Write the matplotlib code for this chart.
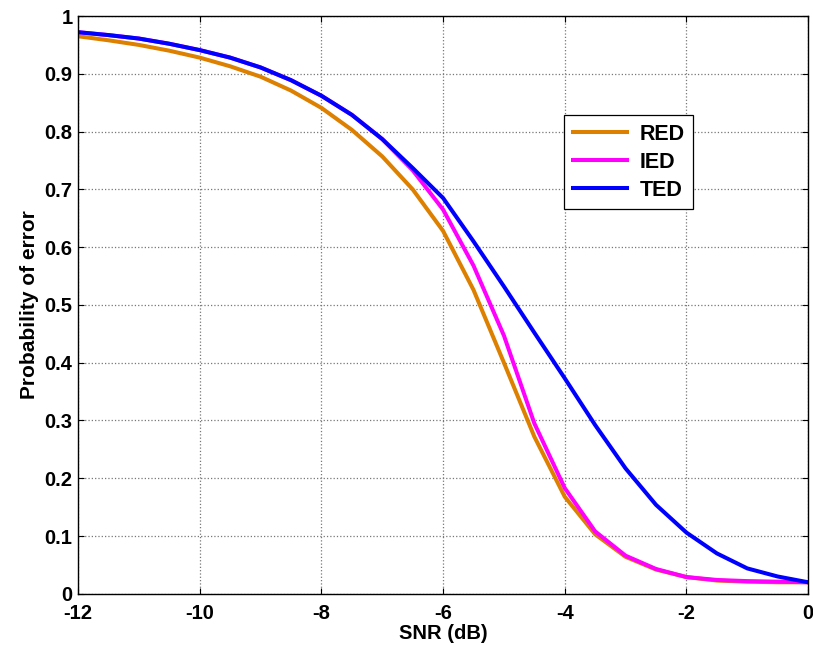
import matplotlib
matplotlib.use("Agg")
import matplotlib.pyplot as plt

snr = [-12, -11.5, -11, -10.5, -10, -9.5, -9, -8.5, -8, -7.5, -7, -6.5, -6,
       -5.5, -5, -4.5, -4, -3.5, -3, -2.5, -2, -1.5, -1, -0.5, 0]
red = [0.965, 0.958, 0.950, 0.940, 0.928, 0.913, 0.895, 0.871, 0.841, 0.803,
       0.757, 0.700, 0.628, 0.526, 0.400, 0.272, 0.168, 0.103, 0.064, 0.042,
       0.029, 0.023, 0.021, 0.020, 0.020]
ied = [0.972, 0.967, 0.961, 0.952, 0.941, 0.928, 0.911, 0.889, 0.862, 0.829,
       0.787, 0.733, 0.665, 0.568, 0.447, 0.295, 0.183, 0.108, 0.066, 0.043,
       0.029, 0.024, 0.022, 0.021, 0.020]
ted = [0.972, 0.967, 0.961, 0.952, 0.941, 0.928, 0.911, 0.889, 0.862, 0.829,
       0.787, 0.737, 0.685, 0.610, 0.532, 0.452, 0.373, 0.292, 0.217, 0.154,
       0.106, 0.070, 0.044, 0.030, 0.020]
labels = ["RED", "IED", "TED"]
colors = ["#DD8000", "#FF00FF", "#0000FF"]
xticks = [-12, -10, -8, -6, -4, -2, 0]
yticks = [0, 0.1, 0.2, 0.3, 0.4, 0.5, 0.6, 0.7, 0.8, 0.9, 1]
yticklabels = ["0", "0.1", "0.2", "0.3", "0.4", "0.5", "0.6", "0.7", "0.8", "0.9", "1"]

plt.rcParams['font.family'] = ['Liberation Sans', 'DejaVu Sans']
plt.rcParams['font.weight'] = 'bold'

fig = plt.figure(figsize=(8.13, 6.54), dpi=100)
ax = fig.add_axes([0.096, 0.092, 0.898, 0.8835])

for y, lab, c in zip([red, ied, ted], labels, colors):
    ax.plot(snr, y, color=c, lw=2.9, label=lab)

ax.set_xlim(-12, 0)
ax.set_ylim(0, 1)
ax.set_xticks(xticks)
ax.set_xticklabels([str(t) for t in xticks])
ax.set_yticks(yticks)
ax.set_yticklabels(yticklabels)
ax.tick_params(direction='in', top=True, right=True, labelsize=14.5, length=4, width=0.8)
ax.tick_params(axis='x', pad=7)
ax.tick_params(axis='y', pad=4)
for lbl in ax.get_xticklabels() + ax.get_yticklabels():
    lbl.set_fontweight('bold')
ax.grid(True, color='#777777', linestyle=':', linewidth=0.9)
for s in ax.spines.values():
    s.set_linewidth(1.0)

ax.set_xlabel("SNR (dB)", fontsize=14.5, fontweight='bold', labelpad=1)
ax.set_ylabel("Probability of error", fontsize=15, fontweight='bold', labelpad=4)

leg = ax.legend(loc='upper left', bbox_to_anchor=(0.666, 0.828), fontsize=15.5,
                frameon=True, fancybox=False, edgecolor='black', framealpha=1,
                handlelength=2.5, borderpad=0.4, labelspacing=0.32, handletextpad=0.6,
                borderaxespad=0)
leg.get_frame().set_linewidth(0.9)
for t in leg.get_texts():
    t.set_fontweight('bold')

fig.savefig("out.png", dpi=100)
